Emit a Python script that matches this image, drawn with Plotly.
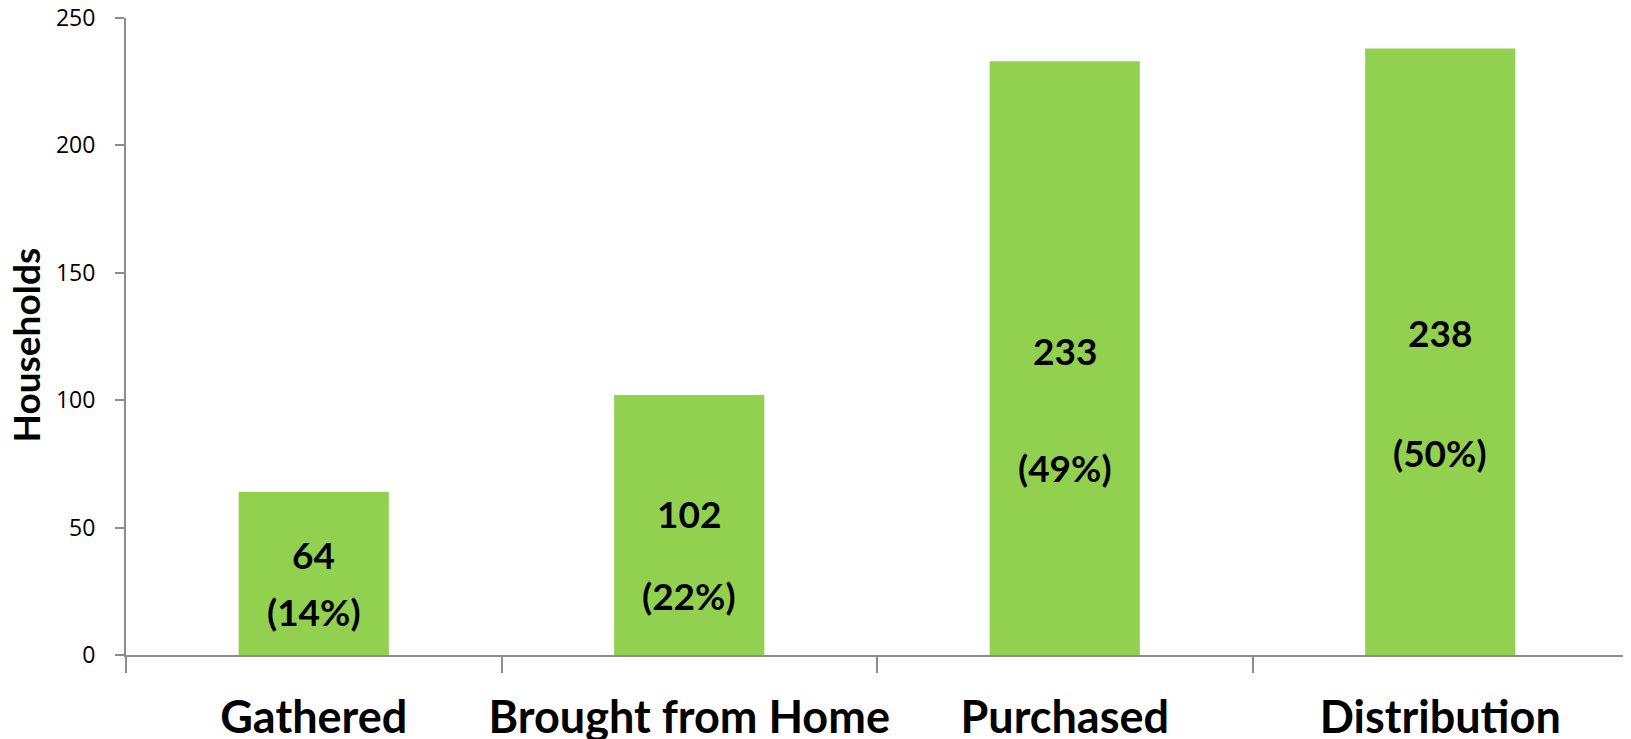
import plotly.graph_objects as go

categories = ["Gathered", "Brought from Home", "Purchased", "Distribution"]
households = [64, 102, 233, 238]
percent_labels = ["(14%)", "(22%)", "(49%)", "(50%)"]
y_ticks = [0, 50, 100, 150, 200, 250]

# annotation placement (layout, in axis units)
count_label_y = [39.6, 55.7, 119.7, 126.4]
pct_label_y = [16.9, 23.2, 73.4, 79.3]

BAR_COLOR = "#92D050"
AXIS_COLOR = "#8C8C8C"
BOLD_FONT = "Lato"

ML, MR, MT, MB = 118, 11, 10, 92
plot_w = 1631 - ML - MR
plot_h = 739 - MT - MB

fig = go.Figure()
fig.add_trace(go.Bar(
    x=categories,
    y=households,
    marker=dict(color=BAR_COLOR, line=dict(width=0)),
    width=0.4,
    hoverinfo="x+y",
))

annotations = []
for cat, v, cy, p, py in zip(categories, households, count_label_y, percent_labels, pct_label_y):
    annotations.append(dict(x=cat, y=cy, xref="x", yref="y", text=f"<b>{v}</b>",
                            showarrow=False, font=dict(family=BOLD_FONT, size=37, color="#000000")))
    annotations.append(dict(x=cat, y=py, xref="x", yref="y", text=f"<b>{p}</b>",
                            showarrow=False, font=dict(family=BOLD_FONT, size=37, color="#000000")))

annotations.append(dict(x=(17 - ML) / plot_w, y=0.5 - 9 / plot_h, xref="paper", yref="paper",
                        text="<b>Households</b>",
                        textangle=-90, showarrow=False, xanchor="center", yanchor="middle",
                        font=dict(family=BOLD_FONT, size=37, color="#000000")))

fig.update_layout(
    width=1631,
    height=739,
    margin=dict(l=ML, r=MR, t=MT, b=MB, autoexpand=False),
    paper_bgcolor="white",
    plot_bgcolor="white",
    showlegend=False,
    annotations=annotations,
)

fig.update_xaxes(
    type="category",
    tickson="boundaries",
    ticks="outside",
    ticklen=16,
    tickwidth=1.5,
    tickcolor=AXIS_COLOR,
    showline=True,
    linecolor=AXIS_COLOR,
    linewidth=2,
    showgrid=False,
    tickangle=0,
    automargin=False,
    tickfont=dict(family=BOLD_FONT, size=45, color="#000000"),
    ticklabelstandoff=22,
    tickprefix="<b>",
    ticksuffix="</b>",
)

fig.update_yaxes(
    range=[0, 250],
    tickvals=y_ticks,
    ticks="outside",
    ticklen=9,
    tickwidth=1.5,
    tickcolor=AXIS_COLOR,
    showline=True,
    linecolor=AXIS_COLOR,
    linewidth=2,
    showgrid=False,
    zeroline=False,
    automargin=False,
    ticklabeloverflow="allow",
    tickfont=dict(family="Open Sans", size=23, color="#000000"),
    ticklabelstandoff=15,
)

fig.write_html("out.html")
